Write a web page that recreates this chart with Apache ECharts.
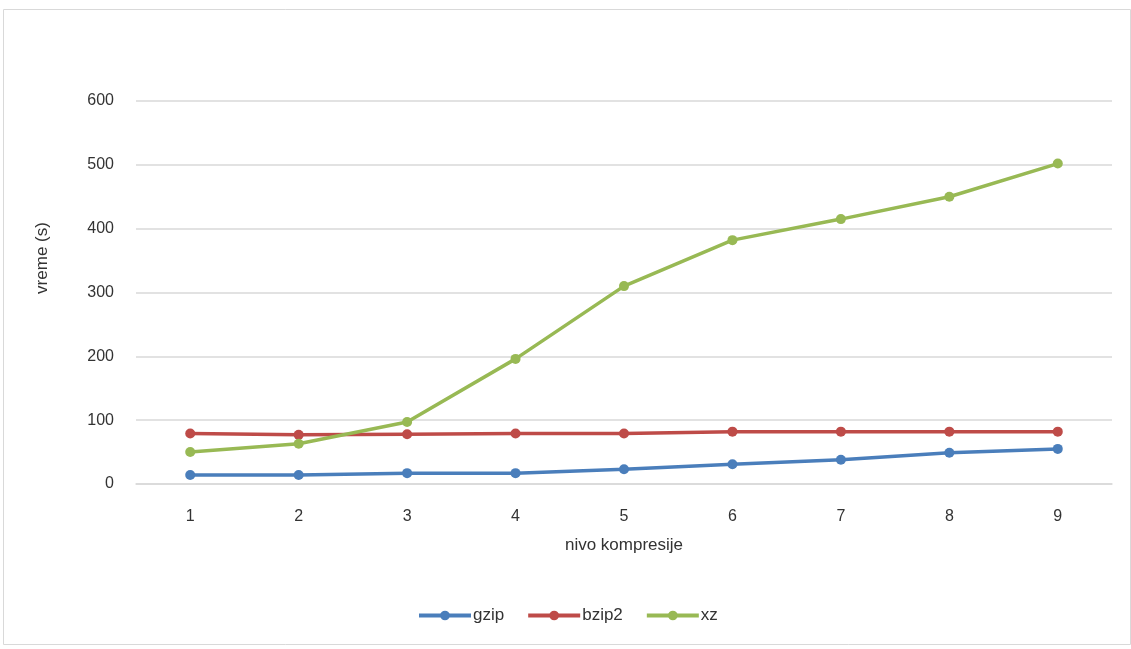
<!DOCTYPE html>
<html><head><meta charset="utf-8">
<script src="https://cdn.jsdelivr.net/npm/echarts@6/dist/echarts.min.js"></script>
<style>html,body{margin:0;padding:0;background:#fff}#c{width:1131px;height:649px}</style>
</head><body><div id="c"></div>
<script>
const categories = ['1','2','3','4','5','6','7','8','9'];
const gzip = [14, 14, 17, 17, 23, 31, 38, 49, 55];
const bzip2 = [79, 77, 78, 79, 79, 82, 82, 82, 82];
const xz = [50, 63, 97, 196, 310, 382, 415, 450, 502];
const seriesNames = ['gzip', 'bzip2', 'xz'];
const colors = ['#4a7ebb', '#be4b48', '#98b954'];
const chart = echarts.init(document.getElementById('c'));
const font = 'Liberation Sans, Arial, sans-serif';
const mk = (name, data, i) => ({
  name, type: 'line', data, symbol: 'circle', symbolSize: 10,
  lineStyle: {width: 3.5, color: colors[i]}, itemStyle: {color: colors[i]}
});
chart.setOption({
  animation: false,
  color: colors,
  graphic: [
    {type: 'rect', shape: {x: 3.5, y: 9.5, width: 1127, height: 635}, style: {fill: 'none', stroke: '#d9d9d9', lineWidth: 1}},
    {type: 'text', x: 42, y: 258, rotation: Math.PI / 2, style: {text: 'vreme (s)', fill: '#333333', font: '17px ' + font, textAlign: 'center', textVerticalAlign: 'middle'}}
  ],
  grid: {left: 136, right: 19, top: 101, bottom: 165},
  legend: {
    bottom: 20, left: 412, itemWidth: 52, itemHeight: 12, itemGap: 22,
    lineStyle: {width: 4},
    textStyle: {fontSize: 17, color: '#333333', fontFamily: font, padding: [0, 0, 0, -3]},
    data: seriesNames
  },
  xAxis: {
    type: 'category', data: categories, boundaryGap: true,
    name: 'nivo kompresije', nameLocation: 'middle', nameGap: 53,
    nameTextStyle: {fontSize: 17, color: '#333333', fontFamily: font},
    axisLine: {lineStyle: {color: '#d9d9d9', width: 1.5}},
    axisTick: {show: false},
    axisLabel: {fontSize: 16, color: '#333333', fontFamily: font, margin: 25}
  },
  yAxis: {
    type: 'value', min: 0, max: 600, interval: 100,
    axisLine: {show: false}, axisTick: {show: false},
    axisLabel: {fontSize: 16, color: '#333333', fontFamily: font, margin: 22},
    splitLine: {lineStyle: {color: '#d9d9d9', width: 1.5}}
  },
  series: [mk('gzip', gzip, 0), mk('bzip2', bzip2, 1), mk('xz', xz, 2)]
});
</script></body></html>
